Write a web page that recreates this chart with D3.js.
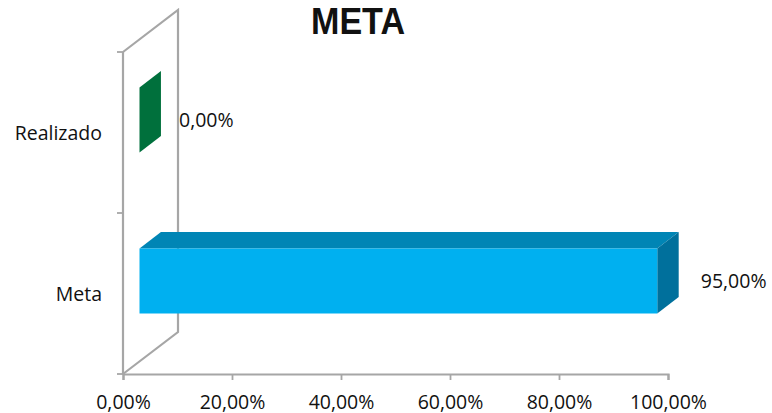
<!DOCTYPE html>
<html>
<head>
<meta charset="utf-8">
<script src="https://cdnjs.cloudflare.com/ajax/libs/d3/7.8.5/d3.min.js"></script>
<style>
  html, body { margin: 0; padding: 0; background: #fff; }
  text { font-family: "Open Sans", sans-serif; fill: #111; }
</style>
</head>
<body>
<div id="chart"></div>
<script>
const chartTitle = 'META';
const categories = ['Realizado', 'Meta'];
const values = [0, 95];
const valueLabels = ['0,00%', '95,00%'];
const tickValues = [0, 20, 40, 60, 80, 100];
const tickLabels = ['0,00%', '20,00%', '40,00%', '60,00%', '80,00%', '100,00%'];

const width = 772, height = 413;
const AXIS_COLOR = '#a6a6a6';
const FILLS = {
  Realizado: { front: '#00703c' },
  Meta: { front: '#00b0f0', top: '#0085b5', side: '#00709c' }
};

const svg = d3.select('#chart').append('svg')
  .attr('width', width).attr('height', height)
  .style('display', 'block');

const x = d3.scaleLinear().domain([0, 100]).range([123, 668]);
const y = d3.scaleBand().domain(categories).range([52, 374]);

// the floor recedes up and to the right
const depthX = 55, depthY = -42;
const barDepth = [0.3, 0.69];
const barHeight = 65;

const project = (v, py, d) => [x(v) + depthX * d, py + depthY * d];
const line = d3.line();

// walls
svg.append('path')
  .attr('d', line([[x(0), y.range()[0]], project(0, y.range()[0], 1), project(0, y.range()[1], 1), [x(0), y.range()[1]]]))
  .attr('fill', 'none').attr('stroke', AXIS_COLOR).attr('stroke-width', 2.2);

svg.append('line')
  .attr('x1', x(0)).attr('x2', x(0))
  .attr('y1', y.range()[0]).attr('y2', y.range()[1])
  .attr('stroke', AXIS_COLOR).attr('stroke-width', 2.2);

// y ticks
svg.selectAll('.y-tick')
  .data([52, 213, 374])
  .join('line')
  .attr('class', 'y-tick')
  .attr('x1', 117).attr('x2', x(0))
  .attr('y1', d => d).attr('y2', d => d)
  .attr('stroke', AXIS_COLOR).attr('stroke-width', 1.8);

// x axis
const xAxis = d3.axisBottom(x)
  .tickValues(tickValues)
  .tickSize(6)
  .tickFormat((d, i) => tickLabels[i]);

const xAxisG = svg.append('g')
  .attr('transform', `translate(0, ${y.range()[1]})`)
  .call(xAxis);
xAxisG.select('.domain').attr('stroke', AXIS_COLOR).attr('stroke-width', 2.2);
xAxisG.selectAll('.tick line').attr('stroke', AXIS_COLOR).attr('stroke-width', 1.8);
xAxisG.selectAll('.tick text')
  .attr('y', 27).attr('dy', 0)
  .style('font-family', '"Open Sans", sans-serif')
  .style('font-size', '19.5px')
  .attr('dominant-baseline', 'central')
  .attr('fill', '#111');

// bars
categories.forEach((cat, i) => {
  const mid = y(cat) + y.bandwidth() / 2;
  const top = mid - barHeight / 2, bottom = mid + barHeight / 2;
  const [d0, d1] = barDepth;
  const colors = FILLS[cat];
  const g = svg.append('g').attr('class', 'bar');

  if (values[i] === 0) {
    // zero value: only the flat end of the box shows
    g.append('path')
      .attr('d', line([project(0, top, d0), project(0, top, d1), project(0, bottom, d1), project(0, bottom, d0)]) + 'Z')
      .attr('fill', colors.front);
    return;
  }

  g.append('path')
    .attr('d', line([project(0, top, d0), project(0, top, d1), project(values[i], top, d1), project(values[i], top, d0)]) + 'Z')
    .attr('fill', colors.top);
  g.append('path')
    .attr('d', line([project(values[i], top, d0), project(values[i], top, d1), project(values[i], bottom, d1), project(values[i], bottom, d0)]) + 'Z')
    .attr('fill', colors.side);
  g.append('path')
    .attr('d', line([project(0, top, d0), project(values[i], top, d0), project(values[i], bottom, d0), project(0, bottom, d0)]) + 'Z')
    .attr('fill', colors.front);
});

// category labels
svg.selectAll('.cat-label')
  .data(categories)
  .join('text')
  .attr('class', 'cat-label')
  .attr('x', 102)
  .attr('y', d => y(d) + y.bandwidth() / 2)
  .attr('text-anchor', 'end')
  .attr('dominant-baseline', 'central')
  .style('font-size', '19.5px')
  .text(d => d);

// value labels
svg.selectAll('.value-label')
  .data(categories)
  .join('text')
  .attr('class', 'value-label')
  .attr('x', (d, i) => project(values[i], 0, 1)[0] + (values[i] === 0 ? 1 : 5))
  .attr('y', d => y(d) + y.bandwidth() / 2 - 13)
  .attr('dominant-baseline', 'central')
  .style('font-size', '19.5px')
  .text((d, i) => valueLabels[i]);

svg.append('text')
  .attr('x', 358)
  .attr('y', 34)
  .attr('text-anchor', 'middle')
  .attr('textLength', 94)
  .attr('lengthAdjust', 'spacingAndGlyphs')
  .style('font-family', '"Liberation Sans Narrow", "Liberation Sans", sans-serif')
  .style('font-size', '37px')
  .style('font-weight', 700)
  .text(chartTitle);
</script>
</body>
</html>
